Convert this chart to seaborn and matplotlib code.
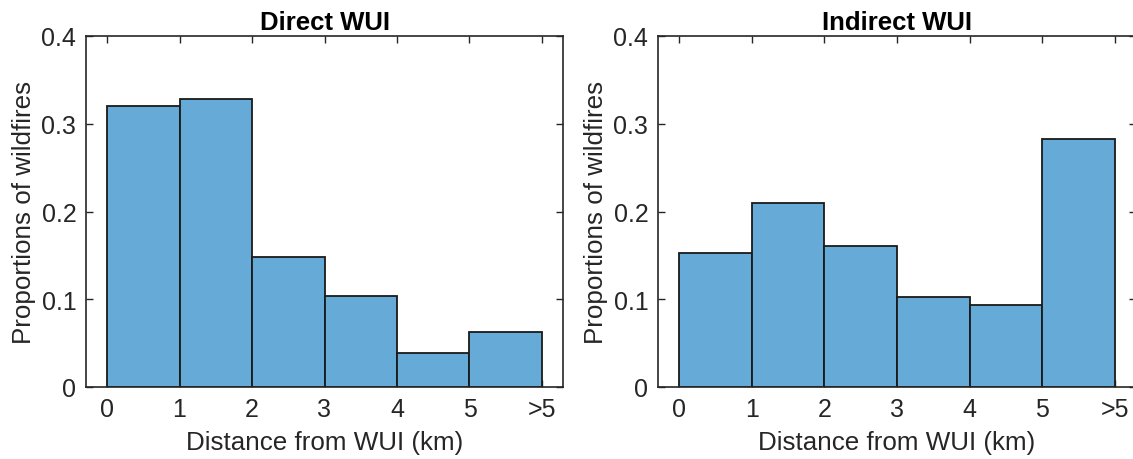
import matplotlib
matplotlib.use("Agg")
import matplotlib.pyplot as plt
import seaborn as sns
import numpy as np

bin_edges = [0, 1, 2, 3, 4, 5, 6]
tick_labels = ["0", "1", "2", "3", "4", "5", ">5"]
direct_wui = [0.320, 0.328, 0.148, 0.104, 0.039, 0.063]
indirect_wui = [0.153, 0.210, 0.161, 0.102, 0.094, 0.283]
titles = ["Direct WUI", "Indirect WUI"]

sns.set_theme(style="white")
plt.rcParams['font.family'] = ['Liberation Sans', 'DejaVu Sans']

fig = plt.figure(figsize=(11.33, 4.6), dpi=100)
W, H = 1133, 460
positions = [(86, 37, 563, 388), (658, 37, 1136, 388)]
bar_color = "#66AAD7"
spine_col = "#262626"

for (x0, y0, x1, y1), vals, title in zip(positions, [direct_wui, indirect_wui], titles):
    ax = fig.add_axes([x0 / W, (H - y1) / H, (x1 - x0) / W, (y1 - y0) / H])
    centers = [(a + b) / 2 for a, b in zip(bin_edges[:-1], bin_edges[1:])]
    sns.histplot(x=centers, weights=vals, bins=bin_edges, stat="count",
                 color=bar_color, alpha=1.0, edgecolor="#1a1a1a", linewidth=1.3, ax=ax)
    ax.set_xlim(-0.29, 6.29)
    ax.set_ylim(0, 0.4)
    ax.set_xticks(bin_edges)
    ax.set_xticklabels(tick_labels)
    ax.set_yticks([0, 0.1, 0.2, 0.3, 0.4])
    ax.set_yticklabels(["0", "0.1", "0.2", "0.3", "0.4"])
    ax.tick_params(direction="in", length=5, width=1.0, color=spine_col,
                   labelsize=18, labelcolor="#262626", top=True, right=True,
                   bottom=True, left=True, pad=7)
    for s in ax.spines.values():
        s.set_visible(True)
        s.set_color(spine_col)
        s.set_linewidth(1.2)
    ax.set_xlabel("Distance from WUI (km)", fontsize=18.7, color="#262626", labelpad=7)
    ax.set_ylabel("Proportions of wildfires", fontsize=18.7, color="#262626", labelpad=4)
    ax.set_title(title, fontsize=18.5, fontweight="bold", color="black", pad=5)

fig.savefig("out.png", dpi=100)
